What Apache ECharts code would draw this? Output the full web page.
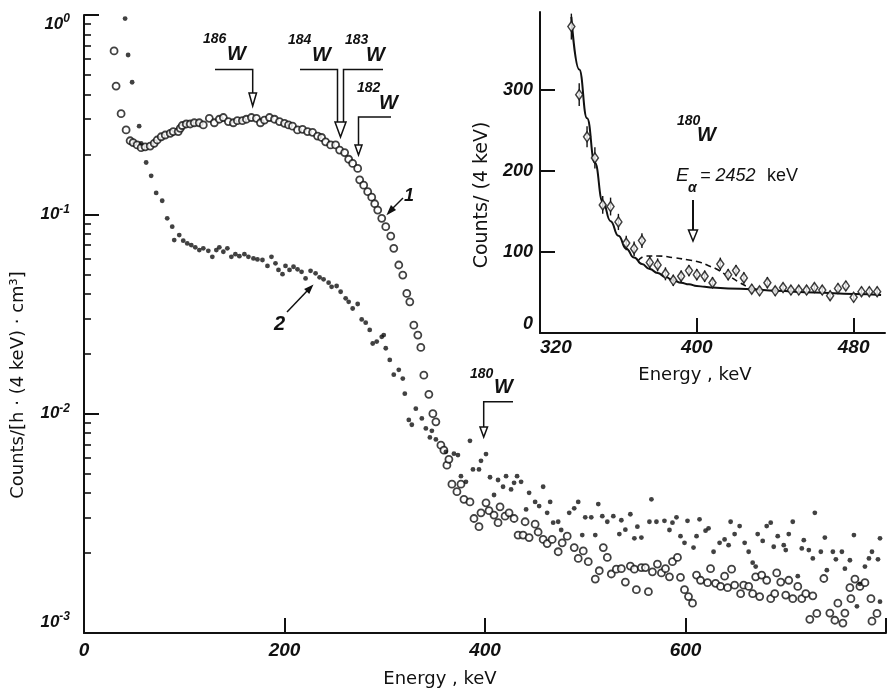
<!DOCTYPE html>
<html>
<head>
<meta charset="utf-8">
<script src="https://cdn.jsdelivr.net/npm/echarts@6.0.0/dist/echarts.min.js"></script>
<style>
  html, body { margin: 0; padding: 0; background: #fff; }
  #chart { width: 894px; height: 694px; }
</style>
</head>
<body>
<div id="chart"></div>
<script>
// main spectrum, curve 1 (open circles): [energy keV, counts]
const openPts = [
  [30,0.66],[32,0.44],[37,0.32],[42,0.265],[46,0.234],[49,0.229],[53,0.223],[57,0.216],[61,0.218],[66,0.22],
  [70,0.227],[73,0.236],[77,0.245],[81,0.25],[86,0.255],[89,0.26],[94,0.26],[96,0.27],[98,0.279],[102,0.284],
  [106,0.284],[110,0.288],[115,0.288],[119,0.281],[125,0.303],[130,0.288],[135,0.30],[139,0.306],[144,0.292],[149,0.288],
  [153,0.295],[158,0.295],[162,0.30],[167,0.306],[172,0.303],[176,0.288],[180,0.297],[185,0.306],[190,0.30],[195,0.292],
  [200,0.286],[204,0.281],[208,0.277],[213,0.265],[218,0.267],[223,0.26],[228,0.258],[233,0.247],[237,0.243],[241,0.231],
  [246,0.223],[251,0.223],[255,0.21],[260,0.204],[264,0.189],[268,0.18],[273,0.17],[275,0.149],[279,0.14],[283,0.13],
  [287,0.122],[290,0.113],[293,0.105],[297,0.0955],[301,0.0867],[306,0.0778],[309,0.0675],[314,0.0557],[318,0.0496],[322,0.0401],
  [325,0.0364],[329,0.0278],[333,0.0248],[336,0.0215],[339,0.0156],[344,0.0125],[348,0.01],[351,0.0091],[356,0.00695],[359,0.00656],
  [362,0.00552],[364,0.0059],[367,0.00443],[372,0.00406],[376,0.00443],[379,0.00372],[385,0.00361],[389,0.00298],[394,0.00271],[396,0.00318],
  [401,0.00357],[404,0.00326],[409,0.0031],[413,0.00284],[415,0.00341],[420,0.00306],[424,0.00318],[429,0.00298],[433,0.00246],[438,0.00246],
  [440,0.00287],[444,0.00239],[450,0.00279],[453,0.00255],[458,0.00234],[462,0.00223],[467,0.00234],[473,0.00203],[477,0.00225],[482,0.00243],
  [489,0.00213],[493,0.00188],[498,0.00205],[503,0.00181],[510,0.00148],[514,0.00163],[518,0.00213],[522,0.0019],[526,0.00157],[531,0.00166],
  [536,0.00167],[540,0.00143],[545,0.00172],[549,0.00166],[551,0.00131],[556,0.00169],[560,0.00169],[563,0.00128],[567,0.00161],[572,0.00176],
  [576,0.00159],[580,0.00167],[584,0.00152],[587,0.00181],[592,0.0019],[595,0.00151],[599,0.00131],[603,0.00121],[607,0.00112],[611,0.00155],
  [615,0.00146],[622,0.00142],[625,0.00167],[630,0.00141],[635,0.00136],[639,0.00153],[642,0.00134],[646,0.00166],[649,0.00138],[655,0.00125],
  [658,0.00138],[663,0.00136],[667,0.00125],[670,0.00152],[674,0.00121],[676,0.00155],[681,0.00146],[685,0.00118],[689,0.00125],[691,0.00159],
  [695,0.00143],[700,0.00123],[703,0.00146],[707,0.00118],[712,0.00136],[716,0.00118],[720,0.00125],[724,0.00093],[727,0.00122],[731,0.000995],
  [738,0.00149],[744,0.001],[749,0.00092],[752,0.00112],[757,0.00089],[759,0.001],[764,0.00134],[765,0.00118],[769,0.00148],[774,0.00136],
  [779,0.00142],[785,0.00118],[786,0.00091],[791,0.000995]
]

// main spectrum, curve 2 (filled dots)
const filledPts = [
  [41,0.96],[44,0.63],[48,0.46],[55,0.277],[57,0.227],[62,0.182],[67,0.156],[72,0.128],[78,0.117],[83,0.0955],
  [88,0.0867],[90,0.0743],[95,0.0787],[99,0.0738],[103,0.0715],[107,0.0701],[111,0.0683],[115,0.0662],[119,0.0675],[124,0.0656],
  [128,0.0612],[132,0.0662],[135,0.0683],[139,0.0649],[143,0.0675],[147,0.0612],[151,0.0631],[155,0.0617],[160,0.0631],[164,0.0612],
  [169,0.0601],[173,0.0594],[178,0.059],[183,0.0551],[187,0.0612],[191,0.0568],[194,0.0526],[198,0.0501],[201,0.0551],[205,0.0526],
  [209,0.0546],[213,0.053],[217,0.0515],[221,0.0477],[226,0.0521],[231,0.0506],[235,0.0483],[239,0.0472],[244,0.0454],[247,0.0433],
  [252,0.0437],[256,0.0409],[261,0.0379],[264,0.0364],[268,0.0337],[273,0.0355],[277,0.0297],[281,0.0286],[285,0.0263],[288,0.0225],
  [292,0.023],[297,0.0243],[299,0.0248],[301,0.0213],[305,0.0186],[309,0.0157],[314,0.0166],[318,0.015],[320,0.0126],[324,0.0093],
  [327,0.0088],[331,0.0106],[337,0.00947],[341,0.00843],[345,0.0076],[347,0.0082],[351,0.00743],[361,0.00644],[369,0.0063],[373,0.0062],
  [376,0.00486],[381,0.00455],[385,0.00731],[388,0.00525],[394,0.00525],[396,0.0058],[401,0.00627],[405,0.0048],[409,0.00391],[413,0.00465],
  [418,0.0043],[421,0.00486],[426,0.00417],[429,0.0045],[432,0.00486],[436,0.00455],[441,0.00331],[444,0.00401],[450,0.00361],[454,0.00344],
  [458,0.0043],[462,0.00318],[465,0.00361],[468,0.00284],[473,0.00287],[476,0.00261],[484,0.00318],[489,0.00335],[493,0.00361],[497,0.00246],
  [500,0.00302],[506,0.00302],[510,0.00246],[513,0.00352],[517,0.00306],[522,0.00287],[528,0.00306],[534,0.00249],[536,0.00292],[540,0.00262],
  [545,0.00313],[549,0.00237],[552,0.00271],[556,0.00239],[564,0.00287],[566,0.00372],[571,0.00287],[579,0.0029],[584,0.00261],[587,0.00284],
  [591,0.00302],[595,0.00243],[599,0.00225],[602,0.0029],[608,0.00213],[611,0.00243],[614,0.00295],[620,0.00259],[623,0.00266],[628,0.00203],
  [634,0.00225],[639,0.00234],[643,0.00219],[645,0.00287],[649,0.00249],[654,0.00273],[659,0.00225],[663,0.00203],[667,0.00179],[670,0.00171],
  [672,0.00249],[677,0.0023],[681,0.00273],[685,0.00284],[688,0.00215],[692,0.00243],[698,0.00219],[700,0.00207],[703,0.00249],[707,0.00287],
  [712,0.00153],[716,0.00211],[718,0.00232],[723,0.00207],[727,0.00188],[729,0.00318],[735,0.00203],[739,0.00239],[741,0.00164],[747,0.00203],
  [750,0.00186],[756,0.00203],[759,0.00167],[764,0.00184],[768,0.00246],[771,0.00108],[774,0.0014],[779,0.00171],[783,0.00188],[786,0.00203],
  [792,0.00186],[794,0.00237],[794,0.00114]
]

// inset: 180W region, counts per 4 keV with errors
const insetE = [336,340,344,348,352,356,360,364,368,372,376,380,384,388,392,396,400,404,408,412,
                416,420,424,428,432,436,440,444,448,452,456,460,464,468,472,476,480,484,488,492]
const insetC = [378,294,242,216,158,156,137,111,104,114,87,84,73,65,70,77,72,70,62,85,
                72,77,68,54,52,62,52,56,53,53,53,56,53,46,55,58,44,51,51,51]
const insetErr = [16,14,13,13,11,11,10,9,9,9,8,8,8,7,7,7,7,7,7,8,
                  7,7,7,6,6,7,6,6,6,6,6,6,6,6,6,6,6,6,6,6]
// background fit (solid) and fit with peak (dashed)
const fitE = [336,340,344,348,352,356,360,364,368,372,376,380,384,388,392,396,400,404,408,416,428,440,460,480,494]
const fitC = [390,325,265,210,162,138,120,104,93,85,79,74,69,65,62,60,58,57,56,55,54,52,50,48,47]
const peakE = [370,374,380,388,396,402,406,410,414,418,422,426,430]
const peakC = [89,95,95,93,90,87,83,79,73,68,62,57,54]

// tick values
const mainXTicks = [200, 400, 600, 800]
const mainXLabels = [0, 200, 400, 600]
const mainYMajor = [0.01, 0.1, 1]
const mainYLabels = [0.001, 0.01, 0.1, 1]
const insetXTicks = [400, 480]
const insetXLabels = [320, 400, 480]
const insetYTicks = [100, 200, 300]
const insetYLabels = [0, 100, 200, 300]

const mainYMinor = []
;[-3, -2, -1].forEach(function (n) {
  for (let k = 2; k <= 9; k++) mainYMinor.push(+(k * Math.pow(10, n)).toPrecision(3))
})

const INK = '#111'
const SANS = "'DejaVu Sans', 'Liberation Sans', Arial, sans-serif"
const NARROW = "'Liberation Sans Narrow', 'Liberation Sans', Arial, sans-serif"

const tickFont = {
  fontFamily: NARROW,
  fontStyle: 'italic',
  fontWeight: 'bold',
  fontSize: 19,
  color: INK,
}
const axisLine = { show: true, lineStyle: { color: INK, width: 2 } }

// graphic helpers (annotations)
function txt(x, y, s, size, italic, bold) {
  return {
    type: 'text',
    x: x,
    y: y,
    z: 100,
    style: {
      text: s,
      fill: INK,
      fontFamily: bold ? NARROW : "'Liberation Sans', Arial, sans-serif",
      fontSize: size,
      fontStyle: italic ? 'italic' : 'normal',
      fontWeight: bold ? 'bold' : 'normal',
      align: 'left',
      verticalAlign: 'middle',
    },
  }
}
function pline(points, w) {
  return { type: 'polyline', z: 100, shape: { points: points }, style: { stroke: INK, lineWidth: w || 1.5, fill: null } }
}
function tri(points, filled) {
  return { type: 'polygon', z: 100, shape: { points: points }, style: { stroke: INK, lineWidth: 1.5, fill: filled ? INK : '#fff' } }
}

var myChart = echarts.init(document.getElementById('chart'))
var option = {
  animation: false,
  backgroundColor: '#fff',
  grid: [
    { left: 84, top: 15, width: 802, height: 618, containLabel: false, outerBoundsMode: 'none' },
    { left: 540, top: 12, width: 345, height: 321, containLabel: false, outerBoundsMode: 'none' },
  ],
  xAxis: [
    {
      type: 'value',
      gridIndex: 0,
      min: 0,
      max: 800,
      name: 'Energy , keV',
      nameLocation: 'middle',
      nameGap: 37,
      nameTextStyle: { fontFamily: SANS, fontSize: 18, color: INK, padding: [0, 90, 0, 0] },
      axisLine: axisLine,
      axisTick: { inside: true, length: 15, customValues: mainXTicks, lineStyle: { color: INK, width: 2 } },
      axisLabel: Object.assign({ customValues: mainXLabels, margin: 8 }, tickFont),
      splitLine: { show: false },
    },
    {
      type: 'value',
      gridIndex: 1,
      min: 320,
      max: 496,
      name: 'Energy , keV',
      nameLocation: 'middle',
      nameGap: 33,
      nameTextStyle: { fontFamily: SANS, fontSize: 18, color: INK, padding: [0, 35, 0, 0] },
      axisLine: axisLine,
      axisTick: { inside: true, length: 15, customValues: insetXTicks, lineStyle: { color: INK, width: 2 } },
      axisLabel: Object.assign({ customValues: insetXLabels, margin: 5, alignMinLabel: 'left' }, tickFont),
      splitLine: { show: false },
    },
  ],
  yAxis: [
    {
      type: 'log',
      logBase: 10,
      gridIndex: 0,
      position: 'left',
      min: 0.000794,
      max: 1,
      name: 'Counts/[h · (4 keV) · cm³]',
      nameLocation: 'middle',
      nameGap: 57,
      nameRotate: 90,
      nameTextStyle: { fontFamily: SANS, fontSize: 18, color: INK, padding: [0, 122, 0, 0] },
      axisLine: axisLine,
      axisTick: { inside: true, length: 15, customValues: mainYMajor, lineStyle: { color: INK, width: 2 } },
      axisLabel: {
        customValues: mainYLabels,
        margin: 14,
        verticalAlignMaxLabel: 'top',
        verticalAlignMinLabel: 'top',
        formatter: function (v) {
          const e = Math.round(Math.log10(v))
          return '{b|10}{s|' + (e === 0 ? '0' : '-' + -e) + '}'
        },
        rich: {
          b: { fontFamily: NARROW, fontStyle: 'italic', fontWeight: 'bold', fontSize: 17, lineHeight: 18, color: INK },
          s: { fontFamily: NARROW, fontStyle: 'italic', fontWeight: 'bold', fontSize: 12, lineHeight: 12, padding: [0, 0, 10, 0], color: INK },
        },
      },
      splitLine: { show: false },
    },
    {
      type: 'log',
      logBase: 10,
      gridIndex: 0,
      position: 'left',
      min: 0.000794,
      max: 1,
      axisLine: { show: false },
      axisTick: { inside: true, length: 7, customValues: mainYMinor, lineStyle: { color: INK, width: 1.6 } },
      axisLabel: { show: false },
      splitLine: { show: false },
    },
    {
      type: 'value',
      gridIndex: 1,
      position: 'left',
      min: 0,
      max: 396,
      name: 'Counts/ (4 keV)',
      nameLocation: 'middle',
      nameGap: 48,
      nameRotate: 90,
      nameTextStyle: { fontFamily: SANS, fontSize: 19, color: INK, padding: [0, 45, 0, 0] },
      axisLine: axisLine,
      axisTick: { inside: true, length: 15, customValues: insetYTicks, lineStyle: { color: INK, width: 2 } },
      axisLabel: Object.assign({ customValues: insetYLabels, margin: 7, verticalAlignMinLabel: 'bottom' }, tickFont, { fontSize: 18 }),
      splitLine: { show: false },
    },
  ],
  series: [
    {
      name: '1',
      type: 'scatter',
      xAxisIndex: 0,
      yAxisIndex: 0,
      symbol: 'circle',
      symbolSize: 7,
      itemStyle: { color: '#fff', borderColor: INK, borderWidth: 1.8 },
      data: openPts,
    },
    {
      name: '2',
      type: 'scatter',
      xAxisIndex: 0,
      yAxisIndex: 0,
      symbol: 'circle',
      symbolSize: 4.8,
      itemStyle: { color: INK },
      data: filledPts,
    },
    {
      name: 'fit',
      type: 'line',
      xAxisIndex: 1,
      yAxisIndex: 2,
      smooth: true,
      smoothMonotone: 'x',
      showSymbol: false,
      lineStyle: { color: INK, width: 2 },
      data: fitE.map((e, i) => [e, fitC[i]]),
    },
    {
      name: 'peak',
      type: 'line',
      xAxisIndex: 1,
      yAxisIndex: 2,
      smooth: true,
      showSymbol: false,
      lineStyle: { color: INK, width: 1.6, type: [6, 4] },
      data: peakE.map((e, i) => [e, peakC[i]]),
    },
    {
      name: 'err',
      type: 'custom',
      xAxisIndex: 1,
      yAxisIndex: 2,
      z: 3,
      renderItem: function (params, api) {
        const x = api.value(0)
        const y = api.value(1)
        const d = api.value(2)
        const p1 = api.coord([x, y - d])
        const p2 = api.coord([x, y + d])
        return {
          type: 'line',
          shape: { x1: p1[0], y1: p1[1], x2: p2[0], y2: p2[1] },
          style: { stroke: INK, lineWidth: 1.4 },
        }
      },
      data: insetE.map((e, i) => [e, insetC[i], insetErr[i]]),
    },
    {
      name: 'counts',
      type: 'scatter',
      xAxisIndex: 1,
      yAxisIndex: 2,
      z: 4,
      symbol: 'diamond',
      symbolSize: [7, 10],
      itemStyle: { color: '#fff', borderColor: INK, borderWidth: 1.5 },
      data: insetE.map((e, i) => [e, insetC[i]]),
    },
  ],
  graphic: {
    elements: [
      // 186W
      txt(203, 39, '186', 14, true, true),
      txt(227, 54, 'W', 20, true, true),
      pline([[215, 69.5], [252.7, 69.5], [252.7, 93]]),
      tri([[249, 93], [256.5, 93], [252.7, 106]]),
      // 184W / 183W
      txt(288, 40, '184', 14, true, true),
      txt(312, 55, 'W', 20, true, true),
      txt(345, 40, '183', 14, true, true),
      txt(366, 55, 'W', 20, true, true),
      pline([[300, 69.5], [337.5, 69.5], [337.5, 122]]),
      pline([[383, 69.5], [343.5, 69.5], [343.5, 122]]),
      tri([[335, 122], [346, 122], [340.5, 137]]),
      // 182W
      txt(357, 88, '182', 14, true, true),
      txt(379, 103, 'W', 20, true, true),
      pline([[391, 117], [358.5, 117], [358.5, 145]]),
      tri([[355, 145], [362, 145], [358.5, 155]]),
      // 180W in main plot
      txt(470, 374, '180', 14, true, true),
      txt(494, 387, 'W', 20, true, true),
      pline([[513, 401.7], [483.7, 401.7], [483.7, 427]]),
      tri([[480, 427], [487.5, 427], [483.7, 437]]),
      // curve labels
      txt(404, 196, '1', 18, true, true),
      pline([[403, 198], [392, 209]]),
      tri([[388, 213.5], [394.8, 209.8], [391.2, 206.2]], true),
      txt(274, 324, '2', 20, true, true),
      pline([[287, 312], [308, 290]]),
      tri([[312, 286], [309, 292.7], [305.4, 289.3]], true),
      // inset annotation
      txt(677, 121, '180', 14, true, true),
      txt(697, 135, 'W', 20, true, true),
      txt(676, 176, 'E', 19, true, false),
      txt(688, 188, 'α', 14, true, true),
      txt(700, 176, '= 2452', 18, true, false),
      txt(767, 176, 'keV', 18, false, false),
      pline([[693, 200], [693, 230]], 2),
      tri([[688.5, 230], [697.5, 230], [693, 241]]),
    ],
  },
}

myChart.setOption(option)
window.addEventListener('resize', function () {
  myChart.resize()
})
</script>
</body>
</html>
